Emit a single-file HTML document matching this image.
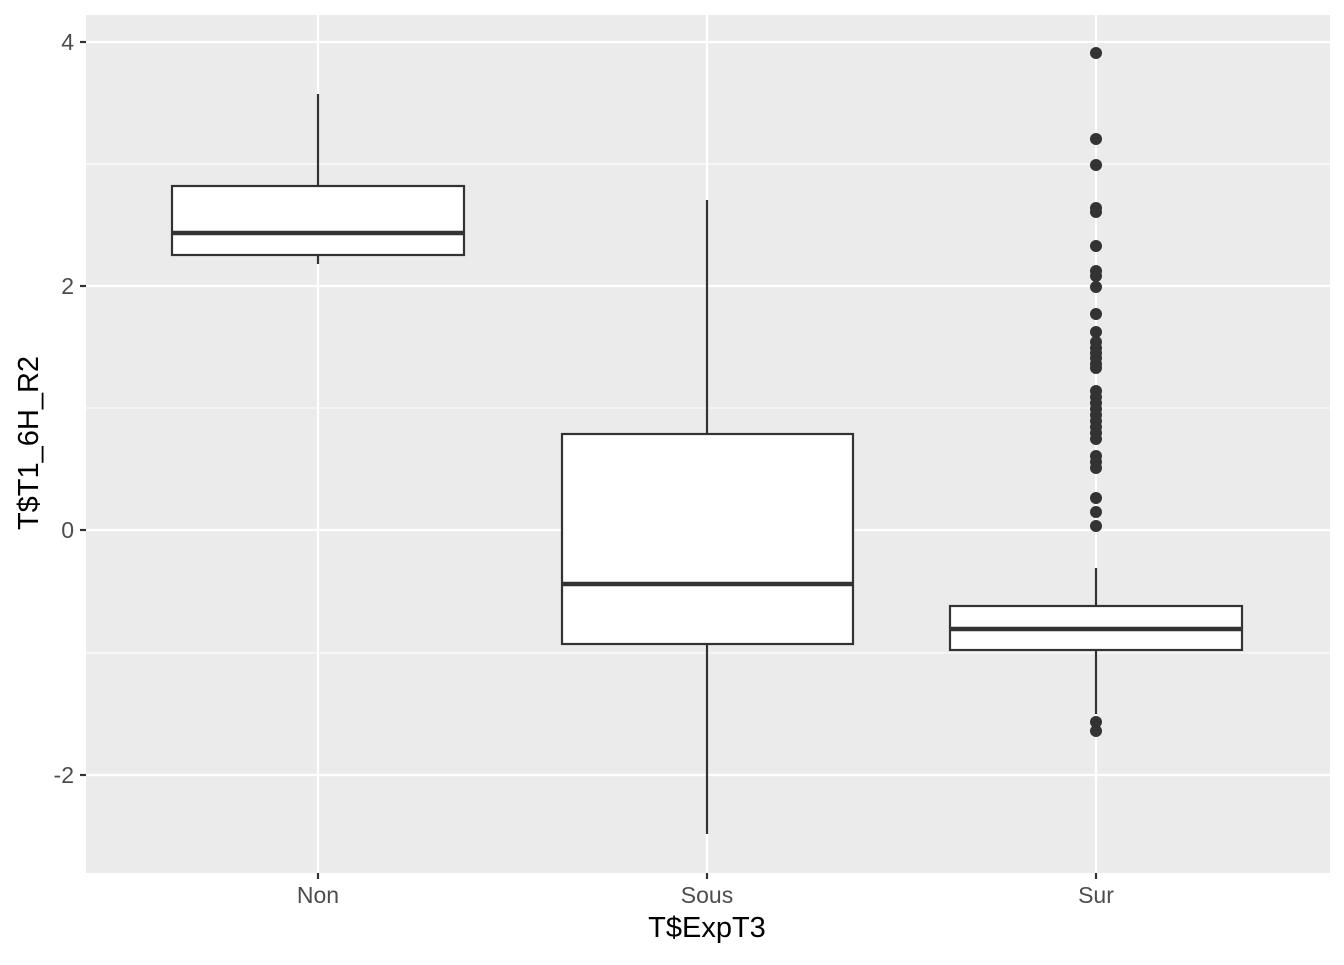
<!DOCTYPE html><html><head><style>body{margin:0;background:#fff}</style></head><body>
<svg width="1344" height="960" xmlns="http://www.w3.org/2000/svg" font-family="Liberation Sans, sans-serif">
<rect x="86" y="15" width="1244" height="858" fill="#EBEBEB"/>
<g stroke="#fff" stroke-width="1.1"><line x1="86" x2="1330" y1="164" y2="164"/><line x1="86" x2="1330" y1="408" y2="408"/><line x1="86" x2="1330" y1="653" y2="653"/></g>
<g stroke="#fff" stroke-width="2.2"><line x1="86" x2="1330" y1="42" y2="42"/><line x1="86" x2="1330" y1="286" y2="286"/><line x1="86" x2="1330" y1="530" y2="530"/><line x1="86" x2="1330" y1="775" y2="775"/>
<line x1="318" x2="318" y1="15" y2="873"/><line x1="707" x2="707" y1="15" y2="873"/><line x1="1096" x2="1096" y1="15" y2="873"/></g>
<g stroke="#333" stroke-width="2.2" fill="#fff">
<line x1="318" x2="318" y1="94" y2="186"/><line x1="318" x2="318" y1="255" y2="264"/>
<rect x="172" y="186" width="292" height="69"/><line x1="172" x2="464" y1="233" y2="233" stroke-width="4.4"/>
<line x1="707" x2="707" y1="200" y2="434"/><line x1="707" x2="707" y1="644" y2="834"/>
<rect x="562" y="434" width="291" height="210"/><line x1="562" x2="853" y1="584" y2="584" stroke-width="4.4"/>
<line x1="1096" x2="1096" y1="568" y2="606"/><line x1="1096" x2="1096" y1="650" y2="714"/>
<rect x="950" y="606" width="292" height="44"/><line x1="950" x2="1242" y1="629" y2="629" stroke-width="4.4"/>
</g>
<g fill="#333">
<circle cx="1096" cy="53" r="6"/><circle cx="1096" cy="139" r="6"/><circle cx="1096" cy="165" r="6"/><circle cx="1096" cy="208" r="6"/><circle cx="1096" cy="212" r="6"/><circle cx="1096" cy="246" r="6"/><circle cx="1096" cy="271" r="6"/><circle cx="1096" cy="276" r="6"/><circle cx="1096" cy="287" r="6"/><circle cx="1096" cy="314" r="6"/><circle cx="1096" cy="332" r="6"/><circle cx="1096" cy="342" r="6"/><circle cx="1096" cy="348" r="6"/><circle cx="1096" cy="353" r="6"/><circle cx="1096" cy="358" r="6"/><circle cx="1096" cy="364" r="6"/><circle cx="1096" cy="368" r="6"/><circle cx="1096" cy="391" r="6"/><circle cx="1096" cy="397" r="6"/><circle cx="1096" cy="403" r="6"/><circle cx="1096" cy="409" r="6"/><circle cx="1096" cy="415" r="6"/><circle cx="1096" cy="421" r="6"/><circle cx="1096" cy="427" r="6"/><circle cx="1096" cy="433" r="6"/><circle cx="1096" cy="439" r="6"/><circle cx="1096" cy="456" r="6"/><circle cx="1096" cy="462" r="6"/><circle cx="1096" cy="468" r="6"/><circle cx="1096" cy="498" r="6"/><circle cx="1096" cy="512" r="6"/><circle cx="1096" cy="526" r="6"/><circle cx="1096" cy="722" r="6"/><circle cx="1096" cy="731" r="6"/>
</g>
<g stroke="#333" stroke-width="2.2"><line x1="80" x2="86" y1="42" y2="42"/><line x1="80" x2="86" y1="286" y2="286"/><line x1="80" x2="86" y1="530" y2="530"/><line x1="80" x2="86" y1="775" y2="775"/>
<line x1="318" x2="318" y1="873" y2="879"/><line x1="707" x2="707" y1="873" y2="879"/><line x1="1096" x2="1096" y1="873" y2="879"/></g>
<g fill="#4D4D4D" font-size="23" text-anchor="end"><text x="74" y="50">4</text><text x="74" y="294">2</text><text x="74" y="538">0</text><text x="74" y="783">-2</text></g>
<g fill="#4D4D4D" font-size="23" text-anchor="middle"><text x="318" y="903">Non</text><text x="707" y="903">Sous</text><text x="1096" y="903">Sur</text></g>
<text x="707" y="937" font-size="29" text-anchor="middle" fill="#000">T$ExpT3</text>
<text transform="translate(38,443) rotate(-90)" font-size="29" text-anchor="middle" fill="#000">T$T1_6H_R2</text>
</svg></body></html>
